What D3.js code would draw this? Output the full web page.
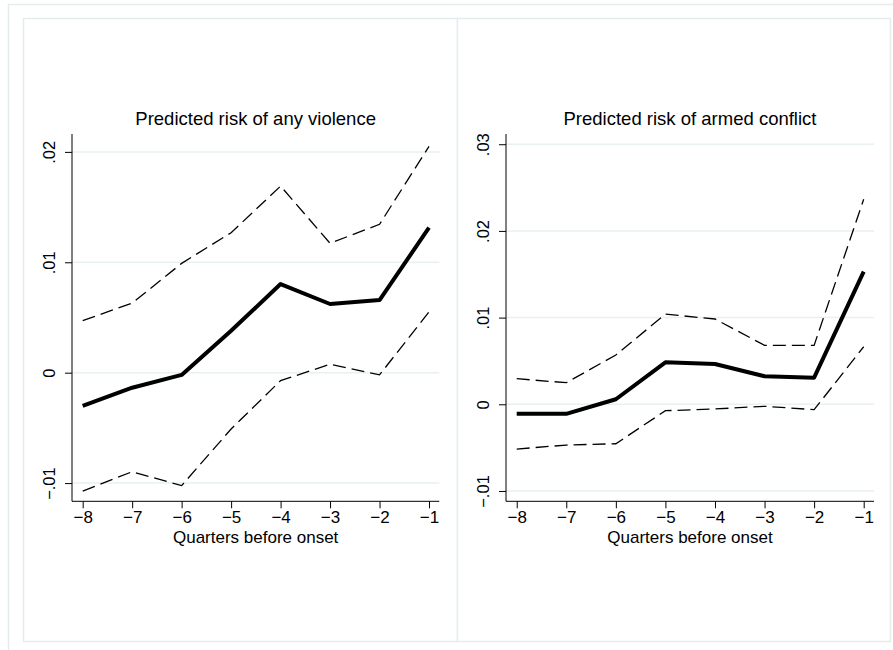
<!DOCTYPE html>
<html><head><meta charset="utf-8">
<script src="https://cdn.jsdelivr.net/npm/d3@7"></script>
<style>
html,body{margin:0;padding:0;background:#fff;}
svg{display:block;font-family:"Liberation Sans",Arial,Helvetica,sans-serif;}
</style></head>
<body>
<script>
const quarters = [-8,-7,-6,-5,-4,-3,-2,-1];
const xTickLabels = ["\u22128","\u22127","\u22126","\u22125","\u22124","\u22123","\u22122","\u22121"];

const violenceMean  = [-0.0030,-0.00136,-0.0002,0.0038,0.00803,0.00622,0.00658,0.01313];
const violenceUpper = [0.00471,0.0063,0.0099,0.01268,0.0169,0.01172,0.01344,0.0205];
const violenceLower = [-0.01072,-0.00897,-0.01023,-0.0051,-0.00072,0.00076,-0.0002,0.0055];
const violenceTicks = [-0.01,0,0.01,0.02];
const violenceTickLabels = ["\u2212.01","0",".01",".02"];

const conflictMean  = [-0.00108,-0.0011,0.00058,0.00484,0.00465,0.00323,0.00307,0.0153];
const conflictUpper = [0.00295,0.00249,0.00569,0.0104,0.00984,0.0068,0.0068,0.02365];
const conflictLower = [-0.00516,-0.0047,-0.00455,-0.00074,-0.00054,-0.00023,-0.00062,0.00664];
const conflictTicks = [-0.01,0,0.01,0.02,0.03];
const conflictTickLabels = ["\u2212.01","0",".01",".02",".03"];

const titles = ["Predicted risk of any violence","Predicted risk of armed conflict"];
const xTitle = "Quarters before onset";

const W = 893, H = 650;
const svg = d3.select("body").append("svg").attr("width",W).attr("height",H);
const frameColor = "#e4ecee";
const FONT = "\"Liberation Sans\",Arial,sans-serif";

// outer frame
svg.append("path").attr("d","M8.5,650 V4.5 H893").attr("fill","none").attr("stroke",frameColor).attr("stroke-width",1.5);
// graph regions
svg.append("rect").attr("x",23.5).attr("y",18.5).attr("width",434).attr("height",623).attr("fill","#fff").attr("stroke",frameColor).attr("stroke-width",1.5);
svg.append("rect").attr("x",457.5).attr("y",18.5).attr("width",433).attr("height",623).attr("fill","#fff").attr("stroke",frameColor).attr("stroke-width",1.5);

const panels = [
  {mean:violenceMean, upper:violenceUpper, lower:violenceLower, ticks:violenceTicks, tickLabels:violenceTickLabels,
   left:72, right:439.3, top:134, bottom:501.3, ydom:[-0.01165,0.02162], title:titles[0]},
  {mean:conflictMean, upper:conflictUpper, lower:conflictLower, ticks:conflictTicks, tickLabels:conflictTickLabels,
   left:506, right:874, top:134, bottom:501.3, ydom:[-0.01119,0.03118], title:titles[1]}
];

panels.forEach(p => {
  const x = d3.scaleLinear().domain([-8.216,-0.792]).range([p.left,p.right]);
  const y = d3.scaleLinear().domain(p.ydom).range([p.bottom,p.top]);
  const g = svg.append("g");

  // gridlines
  g.selectAll("line.grid").data(p.ticks).join("line")
    .attr("x1",p.left).attr("x2",p.right)
    .attr("y1",d=>y(d)).attr("y2",d=>y(d))
    .attr("stroke","#e8f0f2").attr("stroke-width",1.5);

  // y axis
  const yAxis = d3.axisLeft(y).tickValues(p.ticks).tickSize(7).tickFormat((d,i)=>p.tickLabels[i]);
  const ya = g.append("g").attr("transform",`translate(${p.left},0)`).call(yAxis);
  ya.select(".domain").attr("d",`M0,${p.top}V${p.bottom}`).attr("stroke","#000");
  ya.selectAll(".tick line").attr("stroke","#000");
  ya.selectAll(".tick text")
    .attr("x",0).attr("y",0).attr("dy",null)
    .attr("text-anchor","middle")
    .attr("transform","translate(-17,0) rotate(-90)")
    .attr("font-size",16.5).attr("fill","#000")
    .attr("font-family",FONT);

  // x axis
  const xAxis = d3.axisBottom(x).tickValues(quarters).tickSize(7).tickFormat((d,i)=>xTickLabels[i]);
  const xa = g.append("g").attr("transform",`translate(0,${p.bottom})`).call(xAxis);
  xa.select(".domain").attr("d",`M${p.left},0H${p.right}`).attr("stroke","#000");
  xa.selectAll(".tick line").attr("stroke","#000");
  xa.selectAll(".tick text").attr("y",10).attr("dy","0.71em")
    .attr("font-size",17).attr("fill","#000")
    .attr("font-family",FONT);

  const line = d3.line().x((d,i)=>x(quarters[i])).y(d=>y(d));

  g.append("path").datum(p.upper).attr("d",line).attr("fill","none")
    .attr("stroke","#000").attr("stroke-width",1.3).attr("stroke-dasharray","13,6");
  g.append("path").datum(p.lower).attr("d",line).attr("fill","none")
    .attr("stroke","#000").attr("stroke-width",1.3).attr("stroke-dasharray","13,6");
  g.append("path").datum(p.mean).attr("d",line).attr("fill","none")
    .attr("stroke","#000").attr("stroke-width",4).attr("stroke-linejoin","round");

  // titles
  svg.append("text").attr("x",(p.left+p.right)/2).attr("y",125)
    .attr("text-anchor","middle").attr("font-size",18.5).attr("fill","#000").text(p.title);
  svg.append("text").attr("x",(p.left+p.right)/2).attr("y",543)
    .attr("text-anchor","middle").attr("font-size",17).attr("fill","#000").text(xTitle);
});
</script>
</body></html>
